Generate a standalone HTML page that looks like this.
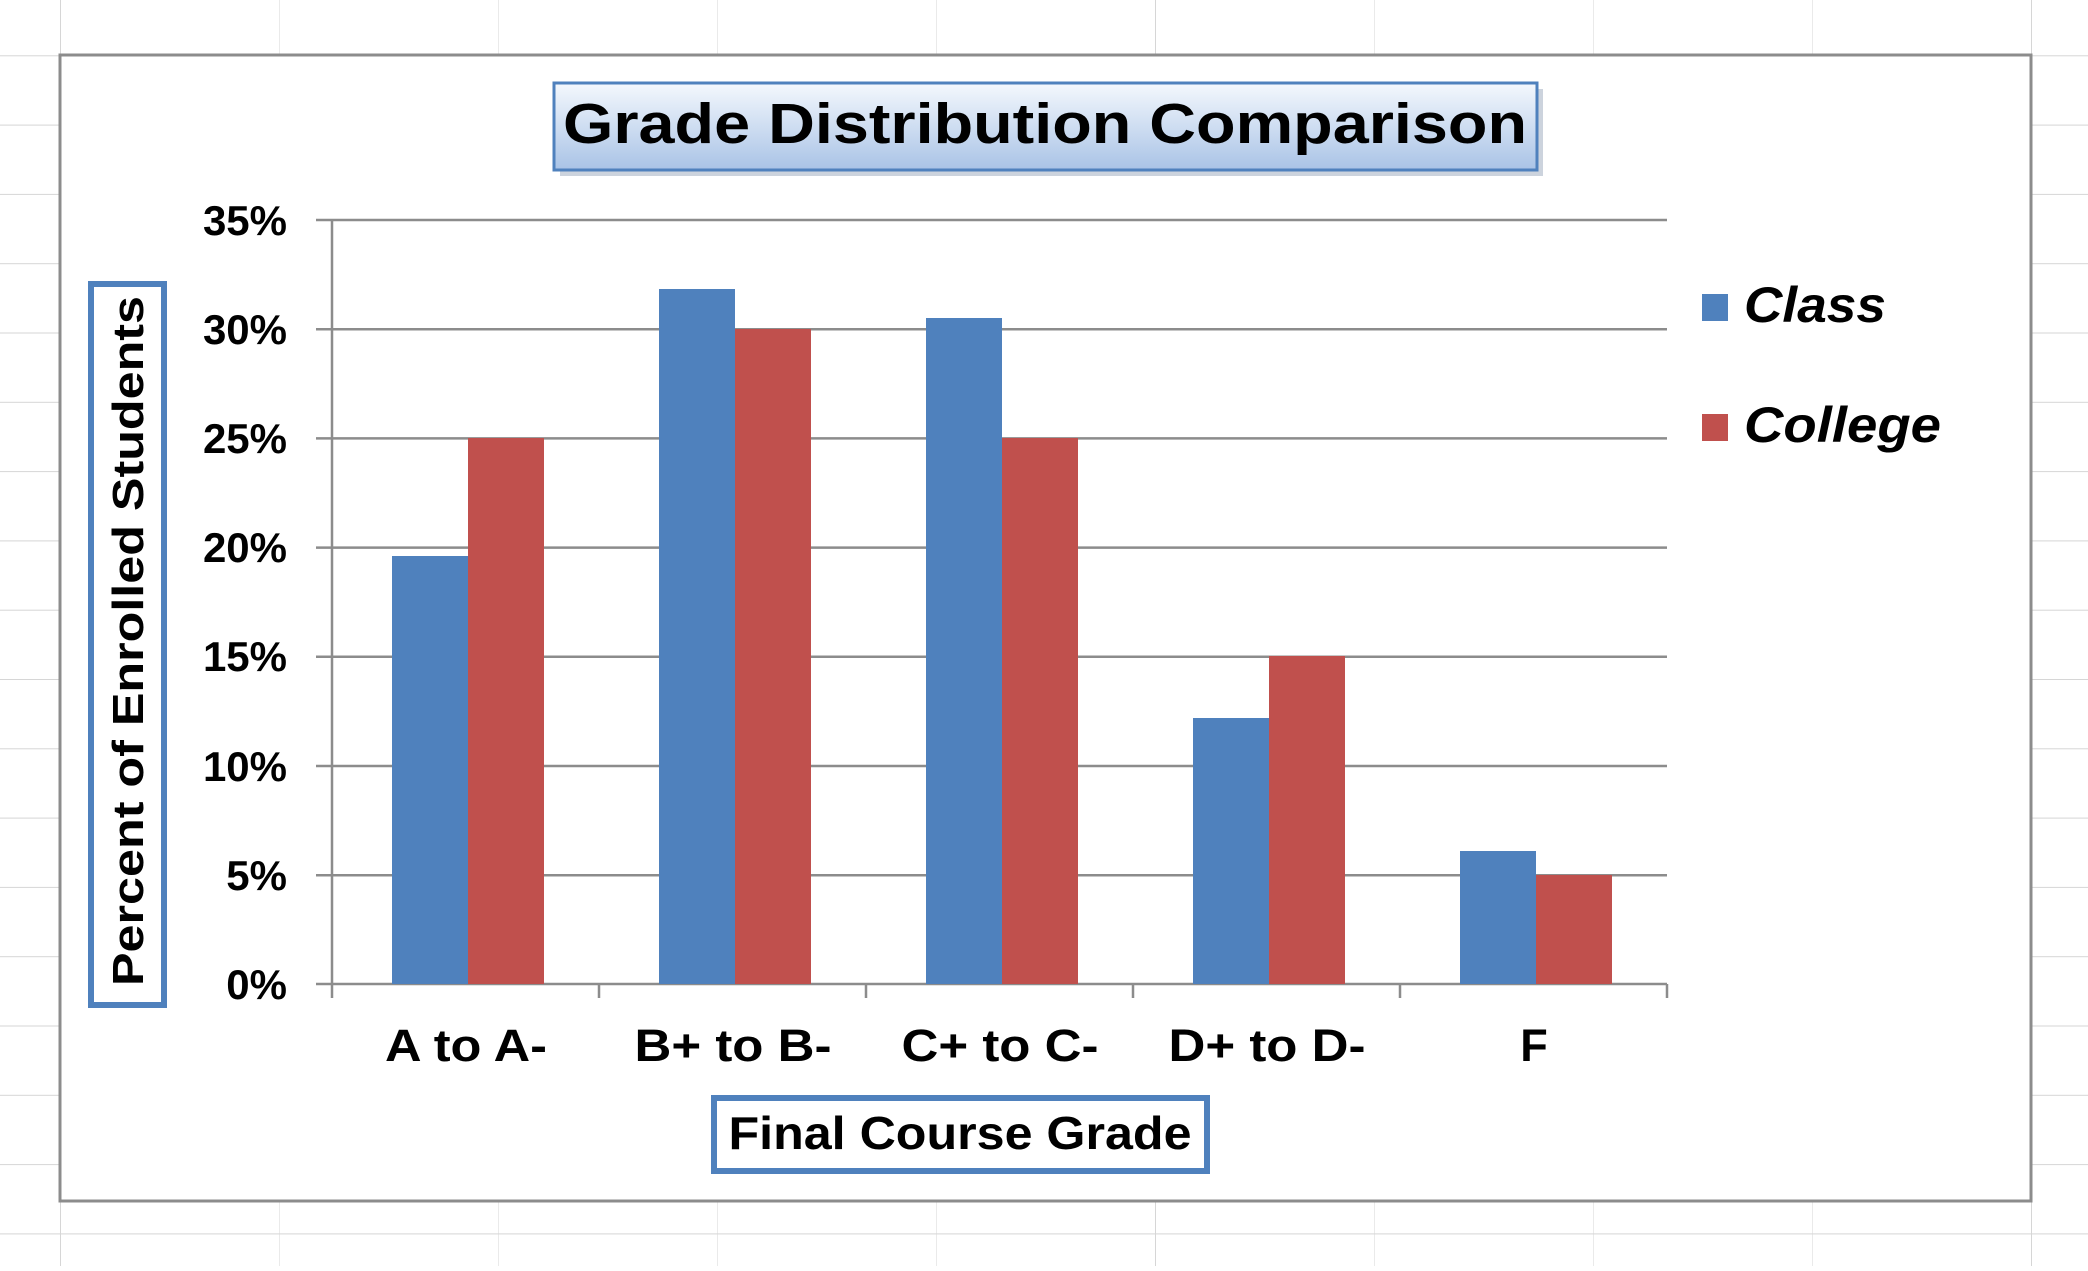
<!DOCTYPE html>
<html><head><style>
body{margin:0;width:2088px;height:1266px;overflow:hidden;background:#fff;}
</style></head><body>
<svg width="2088" height="1266" xmlns="http://www.w3.org/2000/svg" font-family="Liberation Sans, Arial, sans-serif">
<defs>
<linearGradient id="tg" x1="0" y1="0" x2="0" y2="1">
<stop offset="0" stop-color="#f4f8fd"/><stop offset="1" stop-color="#a9c3e6"/>
</linearGradient>
<pattern id="cells" width="219" height="69.3" patternUnits="userSpaceOnUse" x="60" y="-14">
<path d="M0 0H219M0 0V69.3" stroke="#d6d6d6" stroke-width="2" fill="none"/>
</pattern>
</defs>
<rect width="2088" height="1266" fill="url(#cells)"/>
<rect x="60" y="55" width="1971" height="1146" fill="#fff" stroke="#8c8c8c" stroke-width="3"/>
<g stroke="#8c8c8c" stroke-width="2.5">
<line x1="316" x2="1667" y1="220" y2="220"/>
<line x1="316" x2="1667" y1="329.2" y2="329.2"/>
<line x1="316" x2="1667" y1="438.4" y2="438.4"/>
<line x1="316" x2="1667" y1="547.6" y2="547.6"/>
<line x1="316" x2="1667" y1="656.8" y2="656.8"/>
<line x1="316" x2="1667" y1="766" y2="766"/>
<line x1="316" x2="1667" y1="875.2" y2="875.2"/>
<line x1="316" x2="1667" y1="984" y2="984"/>
<line x1="332" x2="332" y1="220" y2="998"/>
<line x1="599" x2="599" y1="984" y2="998"/>
<line x1="866" x2="866" y1="984" y2="998"/>
<line x1="1133" x2="1133" y1="984" y2="998"/>
<line x1="1400" x2="1400" y1="984" y2="998"/>
<line x1="1667" x2="1667" y1="984" y2="998"/>
</g>
<g fill="#4f81bd">
<rect x="392" y="556" width="76" height="428"/>
<rect x="659" y="289" width="76" height="695"/>
<rect x="926" y="318" width="76" height="666"/>
<rect x="1193" y="718" width="76" height="266"/>
<rect x="1460" y="851" width="76" height="133"/>
</g>
<g fill="#c0504d">
<rect x="468" y="438" width="76" height="546"/>
<rect x="735" y="329" width="76" height="655"/>
<rect x="1002" y="438" width="76" height="546"/>
<rect x="1269" y="656" width="76" height="328"/>
<rect x="1536" y="875" width="76" height="109"/>
</g>
<g font-size="42" font-weight="bold" text-anchor="end" fill="#000">
<text x="287" y="235">35%</text>
<text x="287" y="344">30%</text>
<text x="287" y="453">25%</text>
<text x="287" y="562">20%</text>
<text x="287" y="671">15%</text>
<text x="287" y="781">10%</text>
<text x="287" y="890">5%</text>
<text x="287" y="999">0%</text>
</g>
<g font-size="45" font-weight="bold" text-anchor="middle" fill="#000" lengthAdjust="spacingAndGlyphs">
<text x="466" y="1061" textLength="162" lengthAdjust="spacingAndGlyphs">A to A-</text>
<text x="733" y="1061" textLength="197" lengthAdjust="spacingAndGlyphs">B+ to B-</text>
<text x="1000" y="1061" textLength="197" lengthAdjust="spacingAndGlyphs">C+ to C-</text>
<text x="1267" y="1061" textLength="197" lengthAdjust="spacingAndGlyphs">D+ to D-</text>
<text x="1534" y="1061">F</text>
</g>
<rect x="560" y="89" width="983" height="87" fill="#9aa8bb" opacity="0.5"/>
<rect x="554" y="83" width="983" height="87" fill="url(#tg)" stroke="#4f81bd" stroke-width="3"/>
<text x="1045" y="143" font-size="57" font-weight="bold" text-anchor="middle" textLength="964" lengthAdjust="spacingAndGlyphs">Grade Distribution Comparison</text>
<rect x="91" y="284" width="73" height="721" fill="#fff" stroke="#4f81bd" stroke-width="6"/>
<text transform="translate(143,641) rotate(-90)" font-size="44" font-weight="bold" text-anchor="middle" textLength="690" lengthAdjust="spacingAndGlyphs">Percent of Enrolled Students</text>
<rect x="714" y="1098" width="493" height="73" fill="#fff" stroke="#4f81bd" stroke-width="6"/>
<text x="960" y="1149" font-size="46" font-weight="bold" text-anchor="middle" textLength="463" lengthAdjust="spacingAndGlyphs">Final Course Grade</text>
<rect x="1702" y="294" width="26" height="27" fill="#4f81bd"/>
<text x="1744" y="322" font-size="50" font-weight="bold" font-style="italic" textLength="142" lengthAdjust="spacingAndGlyphs">Class</text>
<rect x="1702" y="414" width="26" height="27" fill="#c0504d"/>
<text x="1744" y="442" font-size="50" font-weight="bold" font-style="italic" textLength="197" lengthAdjust="spacingAndGlyphs">College</text>
</svg>
</body></html>
